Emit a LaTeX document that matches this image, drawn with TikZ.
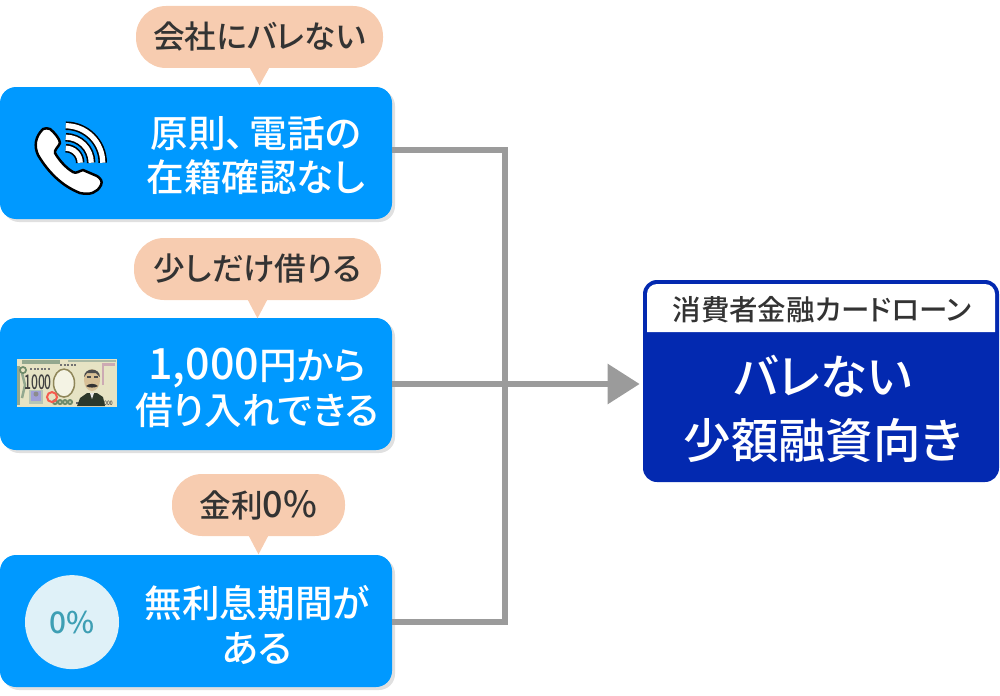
\documentclass[tikz,border=0pt]{standalone}
\usepackage{fontspec}
\setmainfont{Noto Sans CJK JP Medium}[RawFeature=+palt]
\usetikzlibrary{arrows.meta,shadows}
\definecolor{boxblue}{HTML}{0099FF}
\definecolor{cardblue}{HTML}{0329B0}
\definecolor{tagpeach}{HTML}{F7CCB0}
\definecolor{linegray}{HTML}{9B9B9B}
\definecolor{inkdark}{HTML}{333333}
\definecolor{paleblue}{HTML}{DFF1F8}
\definecolor{zeroteal}{HTML}{3E9FB4}
\definecolor{billcream}{HTML}{E6E3C4}
\definecolor{billgreen}{HTML}{6F8B6A}
\newcommand{\wideline}[1]{{\fontsize{24.5}{25.5}\selectfont #1}}
\newcommand{\widetag}[1]{{\fontsize{20.5}{20}\selectfont #1}}
\tikzset{
    infobox/.style={fill=boxblue, rounded corners=0.32cm, minimum width=7.84cm, minimum height=2.64cm, inner sep=0,
        drop shadow={shadow xshift=0.06cm, shadow yshift=-0.06cm, opacity=0.12, fill=black}},
    tagbubble/.style={fill=tagpeach, rounded corners=0.6cm, minimum height=1.24cm, inner sep=0,
        font=\fontsize{18}{20}\selectfont, text=inkdark},
    boxtext/.style={text=white, align=center, inner sep=0, font=\fontsize{21.4}{25.5}\selectfont},
    conn/.style={draw=linegray, line width=0.12cm},
    tagtip/.style={fill=tagpeach},
    ink/.style={draw=black, line width=0.05cm, line join=round}
}
\begin{document}
\begin{tikzpicture}
    \useasboundingbox (0, 0) rectangle (20, 13.9);

    \node[infobox] (box1) at (3.92, 10.84) { };
    \node[infobox] (box2) at (3.92, 6.22) { };
    \node[infobox] (box3) at (3.92, 1.48) { };

    \node[tagbubble, minimum width=4.94cm] (tag1) at (5.19, 13.16) { 会社にバレない };
    \node[tagbubble, minimum width=4.94cm] (tag2) at (5.15, 8.52) { 少しだけ借りる };
    \node[tagbubble, minimum width=3.46cm] (tag3) at (5.17, 3.8) { 金利\widetag{0\%} };
    \fill[tagtip] ([xshift=-0.2cm, yshift=0.02cm]tag1.south) -- ([xshift=0.2cm, yshift=0.02cm]tag1.south) -- ([yshift=-0.34cm]tag1.south) -- cycle;
    \fill[tagtip] ([xshift=-0.2cm, yshift=0.02cm]tag2.south) -- ([xshift=0.2cm, yshift=0.02cm]tag2.south) -- ([yshift=-0.36cm]tag2.south) -- cycle;
    \fill[tagtip] ([xshift=-0.2cm, yshift=0.02cm]tag3.south) -- ([xshift=0.2cm, yshift=0.02cm]tag3.south) -- ([yshift=-0.36cm]tag3.south) -- cycle;

    \node[boxtext] (text1) at (5.12, 10.79) { 原則、\kern 3pt 電話の\\在籍確認なし };
    \node[boxtext] (text2) at (5.14, 6.14) { \wideline{1,000}円から\\借り入れできる };
    \node[boxtext] (text3) at (5.14, 1.4) { 無利息期間が\\ある };

    \begin{scope}[x=0.02cm, y=-0.02cm, shift={(0cm, 13.9cm)}]
        \draw[ink, fill=white] (43,129) .. controls (35,137) and (34,146) .. (38,155)
            .. controls (48,172) and (62,186) .. (80,193) .. controls (90,195) and (97,193) .. (101,185)
            .. controls (103,181) and (100,178) .. (97,176) -- (83,170)
            .. controls (79,171) and (76,174) .. (73,172) .. controls (66,168) and (59,160) .. (55,153)
            .. controls (54,150) and (59,146) .. (60,143) .. controls (60,139) and (54,132) .. (50,129)
            .. controls (48,128) and (45,128) .. (43,129) -- cycle;
        \foreach \waver in {37, 25.5, 14.5} {
            \draw[line width=0.17cm] (65.7, 162.7 - \waver) arc[start angle=90, end angle=0, radius=\waver*0.02cm];
            \draw[white, line width=0.105cm] (65.7, 162.7 - \waver) arc[start angle=90, end angle=0, radius=\waver*0.02cm];
        }

        \fill[billcream] (17, 359) rectangle (117, 407);
        \fill[violet!25!billcream] (102, 363) rectangle (115, 385);
        \fill[billcream] (104, 366) rectangle (115, 388);
        \draw[billgreen!75, line width=0.07cm] (22, 362) -- (60, 362);
        \draw[billgreen!60, line width=0.05cm] (68, 361) -- (116, 361);
        \draw[billgreen!75, line width=0.06cm] (18.5, 366) -- (18.5, 405);
        \draw[billgreen!75, line width=0.05cm] (22, 373) -- (25, 385) -- (22, 398);
        \fill[billgreen] (23, 370) circle (4);
        \fill[billcream] (23, 370) circle (2);
        \draw[black!55, line width=0.03cm, dash pattern=on 0.04cm off 0.03cm] (60, 365) -- (76, 365);
        \draw[black!55, line width=0.03cm, dash pattern=on 0.04cm off 0.03cm] (30, 369) -- (50, 369);
        \fill[billcream!45!white, draw=billgreen!60!brown, line width=0.03cm] (64, 383) ellipse (10.5 and 14);
        \node[text=black!75, inner sep=0, xscale=0.6, font=\fontsize{11.5}{12}\selectfont] (billnum) at (38, 382) { 1000 };
        \node[text=black!75, inner sep=0, xscale=0.8, font=\fontsize{3.5}{4}\selectfont] (billsmall) at (107, 403) { 1000 };
        \draw[black!60, line width=0.04cm, dash pattern=on 0.05cm off 0.03cm] (76, 403) -- (97, 403);
        \foreach \dotx in {55, 60, 65, 70} {
            \draw[billgreen, line width=0.04cm] (\dotx, 402) circle (2);
        }
        \fill[billgreen!50!white] (29, 390) rectangle (43, 404);
        \fill[blue!30!billcream] (31, 391) rectangle (41, 401);
        \fill[black!45] (36, 394) circle (2.5);
        \draw[red!60!billcream, line width=0.04cm] (52, 397) circle (5);
        \fill[black!60!billgreen] (77, 406) -- (80, 398) -- (87, 393) -- (97, 393) -- (103, 397) -- (105, 406) -- cycle;
        \fill[white!90!black] (90, 393) -- (94, 393) -- (92, 399) -- cycle;
        \fill[billcream!65!brown] (92, 380) ellipse (8 and 11);
        \fill[black!70] (84, 377) .. controls (84, 367) and (100, 367) .. (100, 377) -- (96, 373) -- (87, 373) -- cycle;
        \fill[black!80] (86, 386) .. controls (89, 383) and (95, 383) .. (98, 386) .. controls (95, 388) and (89, 388) .. cycle;
        \draw[black!70, line width=0.025cm] (87, 377) -- (91, 377) (94, 377) -- (98, 377);

        \node[circle, fill=paleblue, minimum size=1.88cm, inner sep=0, text=zeroteal, font=\fontsize{17}{17}\selectfont] (zero) at (72, 622) { 0\% };
    \end{scope}

    \node[fill=cardblue, rounded corners=0.28cm, minimum width=7.12cm, minimum height=4.04cm, inner sep=0] (card) at (16.42, 6.28) { };
    \fill[white] (12.94, 7.26) [rounded corners=0.2cm] -- (12.94, 8.22) -- (19.9, 8.22) [sharp corners] -- (19.9, 7.26) -- cycle;
    \node[text=inkdark, inner sep=0, font=\fontsize{16.2}{18}\selectfont] (cardhead) at (16.44, 7.7) { 消費者金融カードローン };
    \node[text=white, align=center, inner sep=0, font=\fontsize{27}{36.3}\selectfont] (cardtitle) at (16.46, 5.72) { バレない\\少額融資向き };

    \coordinate (jtop) at (10.1, 10.9);
    \coordinate (jbot) at (10.1, 1.46);
    \draw[conn] (box1.east |- jtop) -- (jtop) -- (jbot) -- (box3.east |- jbot);
    \draw[conn, -{Triangle[length=0.64cm, width=0.78cm]}, shorten >=0.06cm] (box2.east) -- (card.west |- box2.east);
\end{tikzpicture}
\end{document}
